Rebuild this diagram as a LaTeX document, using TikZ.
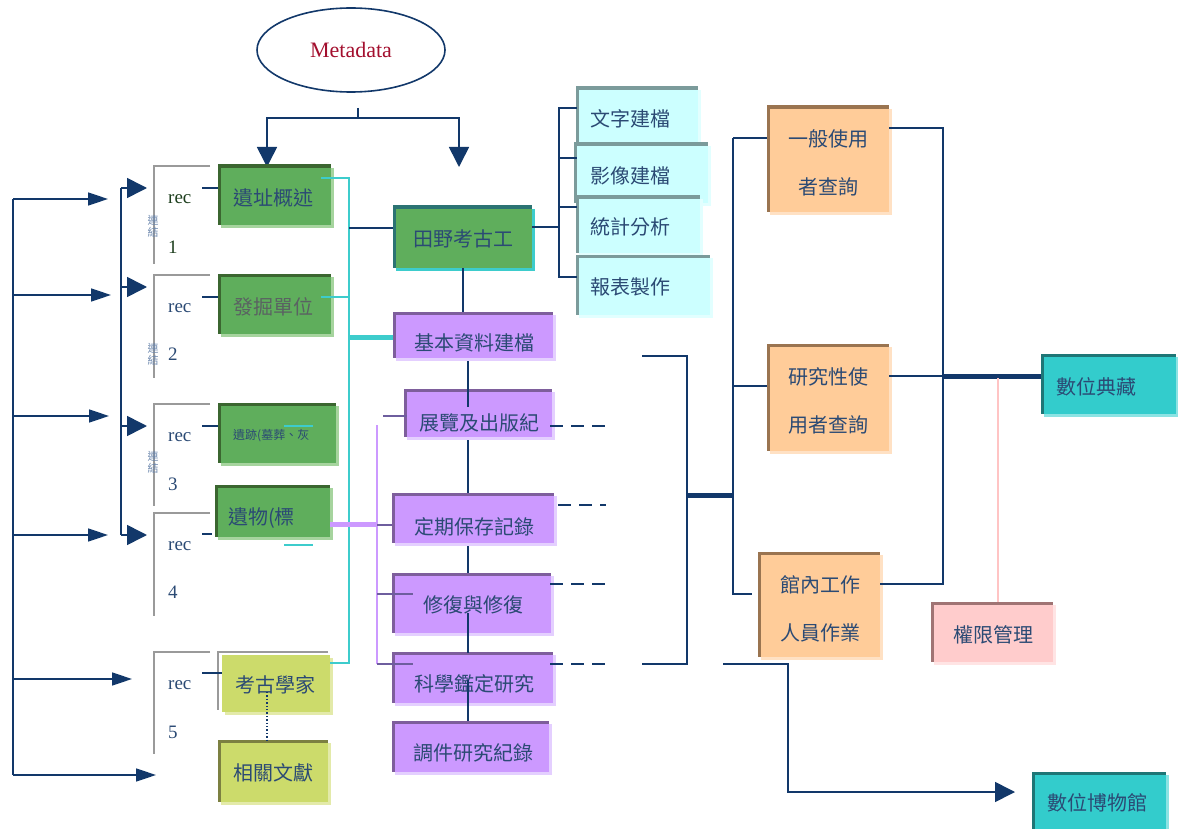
\documentclass[tikz,border=0pt]{standalone}
\usepackage{fontspec}
\setmainfont{Liberation Serif}
\newfontfamily\cjk{Noto Sans CJK TC}
\usetikzlibrary{arrows.meta,shadows,shapes.geometric}
\definecolor{navy}{HTML}{12386A}
\definecolor{tnavy}{HTML}{2B4A74}
\definecolor{tgray}{HTML}{5A6262}
\definecolor{gfill}{HTML}{5FAE5C}
\definecolor{gbord}{HTML}{3B6630}
\definecolor{gshad}{HTML}{A6D49E}
\definecolor{tealb}{HTML}{2B7373}
\definecolor{cyl}{HTML}{3DCCCC}
\definecolor{vfill}{HTML}{CC99FF}
\definecolor{vbord}{HTML}{7E5E9C}
\definecolor{vshad}{HTML}{E4CFFF}
\definecolor{cfill}{HTML}{CCFFFF}
\definecolor{cbord}{HTML}{7B9B9B}
\definecolor{cshad}{HTML}{E2FFFF}
\definecolor{ofill}{HTML}{FFCC99}
\definecolor{obord}{HTML}{9A7450}
\definecolor{oshad}{HTML}{FFE1C4}
\definecolor{pfill}{HTML}{FFCCCC}
\definecolor{pbord}{HTML}{A07474}
\definecolor{pshad}{HTML}{FFE4E4}
\definecolor{tlfill}{HTML}{33CCCC}
\definecolor{tlbord}{HTML}{1E7676}
\definecolor{tlshad}{HTML}{8CE3E3}
\definecolor{yfill}{HTML}{CCDB6B}
\definecolor{ybord}{HTML}{7C8041}
\definecolor{yshad}{HTML}{E3EAA9}
\definecolor{gray9}{HTML}{9A9A9A}
\definecolor{lav}{HTML}{CC99FF}
\definecolor{lavd}{HTML}{6E5E9E}
\definecolor{pinkl}{HTML}{FFC4C4}
\definecolor{metred}{HTML}{A30F2E}
\definecolor{ljc}{HTML}{6C87AD}
\definecolor{recg}{HTML}{1E3F1E}

\tikzset{
  pbox/.style n args={3}{fill=#1, draw=none, inner sep=0pt,
    general shadow={fill=#3, shadow xshift=3pt, shadow yshift=-3pt},
    path picture={\draw[draw=#2, line width=6pt]
      (path picture bounding box.south west) -- (path picture bounding box.north west)
      -- (path picture bounding box.north east);}},
  gbox/.style={pbox={gfill}{gbord}{gshad}},
  tbox/.style={pbox={gfill}{tealb}{cyl}},
  vbox/.style={pbox={vfill}{vbord}{vshad}},
  cbox/.style={pbox={cfill}{cbord}{cshad}},
  obox/.style={pbox={ofill}{obord}{oshad}},
  pkbox/.style={pbox={pfill}{pbord}{pshad}},
  tlbox/.style={pbox={tlfill}{tlbord}{tlshad}},
  ybox/.style={pbox={yfill}{ybord}{yshad}},
  ybox0/.style={pbox={yfill}{yfill}{yshad}},
  txt/.style={font=\cjk\fontsize{20}{48}\selectfont, text=tnavy, inner sep=0pt, align=center},
  navyl/.style={draw=navy, line width=1.6pt},
  grayl/.style={draw=gray9, line width=2.5pt},
  cyanl/.style={draw=cyl, line width=1.6pt},
  lavl/.style={draw=lav, line width=1.6pt},
  lavdl/.style={draw=lavd, line width=1.6pt},
  rect/.style={font=\fontsize{19}{20}\selectfont, inner sep=0pt, anchor=west, text=tnavy},
  lj/.style={font=\cjk\fontsize{11}{12}\selectfont, text=ljc, inner sep=0pt, align=center},
  bigtip/.style={-{Triangle[length=20pt,width=20pt]}},
  smtip/.style={-{Triangle[length=20pt,width=13pt]}},
  dashl/.style={draw=navy, line width=1.6pt, dash pattern=on 13pt off 8pt},
}
\newcommand\pbx[9]{%
  \node[#1, minimum width={(#5-#3)*1pt}, minimum height={(#6-#4)*1pt}] (#2) at ({(#3+#5)/2},{(#4+#6)/2}) {};
  \node[txt,#9] (#2t) at (#8) {#7};
}

\begin{document}
\begin{tikzpicture}[x=1pt,y=-1pt]
\useasboundingbox (0,0) rectangle (1178,829);

% Metadata
\node[ellipse, draw=navy, line width=1.6pt, minimum width=188pt, minimum height=84pt,
      font=\fontsize{22}{24}\selectfont, text=metred] (meta) at (351,50) {Metadata};
\coordinate (mtick) at (358,108);
\coordinate (mj) at (358,118);
\coordinate (tipL) at (267,167);
\coordinate (tipR) at (459,167);
\draw[navyl] (mtick) -- (mj);
\draw[navyl, bigtip] (mj) -| (tipL);
\draw[navyl, bigtip] (mj) -| (tipR);

% line under purple boxes
\draw[navyl] (468,358) -- (468,721);

% left outer arrows
\coordinate (o1) at (13,199);
\coordinate (o6) at (13,775);
\draw[navyl] (o1) -- (o6);
\foreach \y/\t in {199/108, 295/111, 416/109, 535/108, 679/132, 775/156}
  \draw[navyl, smtip] (13,\y) -- (\t,\y);
\draw[navyl] (121,188) -- (121,535);
\foreach \y in {188,287,426,535}
  \draw[navyl, bigtip] (121,\y) -- (147,\y);

% rec brackets
\foreach \t/\b in {166/264, 275/378, 404/506, 513/616, 652/754}
  \draw[grayl] (210,\t) -- (154,\t) -- (154,\b);
\node[rect, text=recg] (r1a) at (168,199) {rec};
\node[rect, text=recg] (r1b) at (168,247) {1};
\node[rect] (r2a) at (168,308) {rec};
\node[rect] (r2b) at (168,354) {2};
\node[rect] (r3a) at (168,437) {rec};
\node[rect] (r3b) at (168,484) {3};
\node[rect] (r4a) at (168,546) {rec};
\node[rect] (r4b) at (168,592) {4};
\node[rect] (r5a) at (168,685) {rec};
\node[rect] (r5b) at (168,732) {5};
\node[lj] (lj1) at (153,226) {連\\結};
\node[lj] (lj2) at (153,354) {連\\結};
\node[lj] (lj3) at (153,462) {連\\結};

% boxes
\pbx{gbox}{yz}{218}{165}{331}{225}{遺址概述}{273,198}{}
\pbx{gbox}{fj}{218}{274}{331}{334}{發掘單位}{273,307}{text=tgray}
\pbx{gbox}{yj}{218}{403}{336}{463}{遺跡(墓葬、灰}{233,436}{anchor=west,font=\cjk\fontsize{12}{14}\selectfont}
\pbx{gbox}{yw}{215}{485}{330}{537}{遺物(標}{228,518}{anchor=west}
\pbx{ybox0}{kg}{222}{655}{330}{712}{考古學家}{275,685}{}
\pbx{ybox}{xg}{218}{740}{328}{802}{相關文獻}{273,773}{}
\pbx{tbox}{ty}{393}{206}{532}{268}{田野考古工}{463,239}{}
\pbx{vbox}{jb}{393}{312}{553}{358}{基本資料建檔}{474,343}{}
\pbx{vbox}{zl}{404}{389}{552}{437}{展覽及出版紀}{479,423}{}
\pbx{vbox}{dq}{392}{493}{554}{543}{定期保存記錄}{474,527}{}
\pbx{vbox}{xf}{392}{573}{551}{633}{修復與修復}{473,605}{}
\pbx{vbox}{kx}{392}{652}{553}{703}{科學鑑定研究}{474,684}{}
\pbx{vbox}{dj}{392}{721}{549}{772}{調件研究紀錄}{473,753}{}
\pbx{cbox}{wz}{576}{87}{698}{146}{文字建檔}{590,119}{anchor=west}
\pbx{cbox}{yx}{574}{143}{708}{203}{影像建檔}{590,176}{anchor=west}
\pbx{cbox}{tj}{576}{196}{700}{253}{統計分析}{590,227}{anchor=west}
\pbx{cbox}{bb}{576}{255}{710}{315}{報表製作}{590,287}{anchor=west}
\pbx{obox}{yb}{767}{106}{889}{212}{一般使用\\者查詢}{828,163}{}
\pbx{obox}{yjx}{767}{344}{889}{451}{研究性使\\用者查詢}{828,401}{}
\pbx{obox}{gn}{758}{552}{880}{657}{館內工作\\人員作業}{820,609}{}
\pbx{pkbox}{qx}{931}{602}{1053}{662}{權限管理}{993,635}{}
\pbx{tlbox}{dc}{1041}{354}{1176}{414}{數位典藏}{1096,387}{}
\pbx{tlbox}{bw}{1032}{772}{1166}{835}{數位博物館}{1097,803}{}

% gray bracket on 考古學家
\draw[draw=gray9, line width=2pt] (328,652) -- (218,652) -- (218,710);

% rec to box connectors
\draw[navyl] (202,188) -- (yz.west |- 0,188);
\draw[navyl] (202,297) -- (fj.west |- 0,297);
\draw[navyl] (202,426) -- (yj.west |- 0,426);
\draw[navyl] (202,534) -- (212,534);
\draw[navyl] (202,673) -- (kg.west |- 0,673);
\draw[navy, line width=1.4pt, dotted] (267,692) -- (xg.north -| 267,0);

% cyan lines
\draw[cyanl] (321,178) -- (349,178) -- (349,663) -- (kg.east |- 0,663);
\draw[cyanl] (321,297) -- (349,297);
\draw[draw=cyl, line width=5pt] (349,337) -- (jb.west |- 0,337);
\draw[cyanl] (284,426) -- (313,426);
\draw[cyanl] (284,545) -- (313,545);
\draw[navyl] (349,228) -- (ty.west |- 0,228);

% lavender lines
\draw[draw=lav, line width=5pt] (yw.east |- 0,524) -- (377,524);
\draw[lavl] (377,425) -- (377,664);
\draw[lavdl] (383,416) -- (407,416);
\draw[lavdl] (377,525) -- (dq.west |- 0,525);
\draw[lavdl] (377,594) -- (413,594);
\draw[lavdl] (377,664) -- (413,664);

% vertical trunk
\draw[navyl] (ty.south -| 463,0) -- (jb.north -| 463,0);
\draw[navyl] (468,389) -- (468,407);
\draw[navyl] (468,613) -- (468,653);
\draw[navyl] (468,680) -- (dj.north -| 468,0);

% dashed
\draw[dashl] (550,426) -- (606,426);
\draw[dashl] (558,505) -- (606,505);
\draw[dashl] (550,584) -- (606,584);
\draw[dashl] (550,664) -- (606,664);

% right cyan bracket
\draw[navyl] (577,108) -- (559,108) -- (559,277) -- (577,277);
\draw[navyl] (559,158) -- (577,158);
\draw[navyl] (559,207) -- (577,207);
\draw[navyl] (ty.east |- 0,227) -- (559,227);

% middle bracket
\draw[navyl] (642,356) -- (687,356) -- (687,664) -- (642,664);
\draw[draw=navy, line width=5pt] (687,495) -- (733,495);
\draw[navyl] (733,138) -- (733,594) -- (752,594);
\draw[navyl] (733,138) -- (yb.west |- 0,138);
\draw[navyl] (733,386) -- (yjx.west |- 0,386);
\coordinate (bwtip) at (1015,792);
\draw[navyl, bigtip] (723,664) -- (788,664) -- (788,792) -- (bwtip);

% right side
\draw[navyl] (yb.east |- 0,128) -- (943,128) -- (943,584) -- (gn.east |- 0,584);
\draw[navyl] (yjx.east |- 0,376) -- (943,376);
\draw[draw=navy, line width=5pt] (943,376) -- (dc.west |- 0,376);
\draw[draw=pinkl, line width=1.6pt] (998,378) -- (qx.north -| 998,0);
\end{tikzpicture}
\end{document}
